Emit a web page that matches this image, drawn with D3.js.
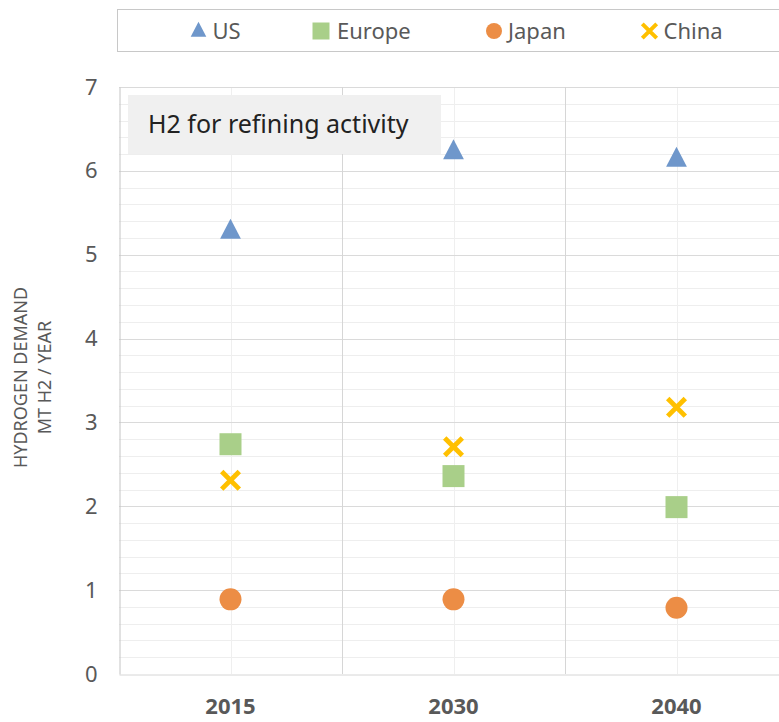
<!DOCTYPE html>
<html>
<head>
<meta charset="utf-8">
<script src="https://cdn.jsdelivr.net/npm/d3@7"></script>
<style>
  html, body { margin: 0; padding: 0; background: #fff; overflow: hidden; }
  svg { display: block; font-family: "Noto Sans", "Open Sans", sans-serif; }
</style>
</head>
<body>
<svg id="chart" width="779" height="722"></svg>
<script>
// data
const YEARS = ["2015", "2030", "2040"]
const US = [5.28, 6.23, 6.14]
const EUROPE = [2.74, 2.36, 1.99]
const JAPAN = [0.89, 0.89, 0.79]
const CHINA = [2.31, 2.71, 3.18]
const Y_TICKS = [0, 1, 2, 3, 4, 5, 6, 7]

const SERIES = [
    {name: "US", values: US, color: "#6f97cb", shape: "triangle"},
    {name: "Europe", values: EUROPE, color: "#a9cf89", shape: "square"},
    {name: "Japan", values: JAPAN, color: "#ec8d45", shape: "circle"},
    {name: "China", values: CHINA, color: "#ffc000", shape: "cross"}
]

const svg = d3.select("#chart")
const LEFT = 119, TOP = 87, BOTTOM = 674
const BAND = 223

const X_SCALE = d3.scaleBand()
    .domain(YEARS)
    .range([LEFT, LEFT + BAND * YEARS.length])
    .padding(0)
const Y_SCALE = d3.scaleLinear()
    .domain([0, 7])
    .range([BOTTOM, TOP])

// minor gridlines every 0.2
const minorTicks = d3.range(0, 7.001, 0.2).filter(v => Math.abs(v - Math.round(v)) > 0.01)
svg.append("g").selectAll("line").data(minorTicks).join("line")
    .attr("x1", LEFT).attr("x2", 779)
    .attr("y1", d => Math.round(Y_SCALE(d)) + 0.5).attr("y2", d => Math.round(Y_SCALE(d)) + 0.5)
    .attr("stroke", "#eeeeee")

// vertical lines through category centres
svg.append("g").selectAll("line").data(YEARS).join("line")
    .attr("x1", d => Math.round(X_SCALE(d) + BAND / 2) + 0.5)
    .attr("x2", d => Math.round(X_SCALE(d) + BAND / 2) + 0.5)
    .attr("y1", TOP).attr("y2", BOTTOM)
    .attr("stroke", "#efefef")

// major gridlines
svg.append("g").selectAll("line").data(Y_TICKS.slice(1)).join("line")
    .attr("x1", LEFT).attr("x2", 779)
    .attr("y1", d => Math.round(Y_SCALE(d)) + 0.5).attr("y2", d => Math.round(Y_SCALE(d)) + 0.5)
    .attr("stroke", "#dadada")

// category separators
svg.append("g").selectAll("line").data(YEARS.slice(1)).join("line")
    .attr("x1", d => Math.round(X_SCALE(d)) + 0.5).attr("x2", d => Math.round(X_SCALE(d)) + 0.5)
    .attr("y1", TOP).attr("y2", BOTTOM)
    .attr("stroke", "#d6d6d6")

// axes
const yAxis = svg.append("g")
    .attr("transform", `translate(${LEFT + 0.5},0)`)
    .call(d3.axisLeft(Y_SCALE).tickValues(Y_TICKS).tickSize(0).tickPadding(22).tickFormat(d3.format("d")))
yAxis.select(".domain").attr("stroke", "#c4c4c4")
yAxis.selectAll("text").attr("fill", "#595959").attr("font-size", 22)
    .attr("font-family", "Noto Sans, sans-serif")

const xAxis = svg.append("g")
    .attr("transform", `translate(0,${BOTTOM + 0.5})`)
    .call(d3.axisBottom(X_SCALE).tickSize(0).tickPadding(24))
xAxis.select(".domain").attr("stroke", "#d6d6d6")
xAxis.selectAll("text").attr("fill", "#595959").attr("font-size", 22)
    .attr("font-weight", "bold").attr("font-family", "Noto Sans, sans-serif")

// y axis title
svg.append("text")
    .attr("transform", `translate(27,${(TOP + BOTTOM) / 2 - 3}) rotate(-90)`)
    .attr("text-anchor", "middle")
    .attr("fill", "#595959").attr("font-size", 18)
    .text("HYDROGEN DEMAND")
svg.append("text")
    .attr("transform", `translate(51,${(TOP + BOTTOM) / 2 - 3}) rotate(-90)`)
    .attr("text-anchor", "middle")
    .attr("fill", "#595959").attr("font-size", 18)
    .text("MT H2 / YEAR")

// title box
svg.append("rect")
    .attr("x", 128).attr("y", 95).attr("width", 313).attr("height", 59)
    .attr("fill", "#f0f0f0")
svg.append("text")
    .attr("x", 148).attr("y", 133)
    .attr("fill", "#222").attr("font-size", 25)
    .text("H2 for refining activity")

function drawMarker(g, shape, color, size) {
    if (shape === "triangle") {
        g.append("path").attr("d", `M0,${-size * 0.62}L${size * 0.52},${size * 0.38}L${-size * 0.52},${size * 0.38}Z`).attr("fill", color)
    } else if (shape === "square") {
        g.append("rect").attr("x", -size / 2).attr("y", -size / 2).attr("width", size).attr("height", size).attr("fill", color)
    } else if (shape === "circle") {
        g.append("circle").attr("r", size / 2).attr("fill", color)
    } else {
        const h = size * 0.4
        g.append("path").attr("d", `M${-h},${-h}L${h},${h}M${h},${-h}L${-h},${h}`)
            .attr("stroke", color).attr("stroke-width", size * 0.22).attr("fill", "none")
    }
}

// markers
const MARKER_SIZE = {triangle: 20, square: 22, circle: 22, cross: 22}
for (const s of SERIES) {
    s.values.forEach((v, i) => {
        const g = svg.append("g")
            .attr("transform", `translate(${X_SCALE(YEARS[i]) + BAND / 2},${Y_SCALE(v)})`)
        drawMarker(g, s.shape, s.color, MARKER_SIZE[s.shape])
    })
}

// legend
svg.append("rect")
    .attr("x", 117.5).attr("y", 9.5).attr("width", 680).attr("height", 42)
    .attr("fill", "#fff").attr("stroke", "#c8c8c8")
const LEGEND_X = [198.5, 321, 494, 649.5]
const LEGEND_SIZE = {triangle: 15, square: 17, circle: 16, cross: 18}
SERIES.forEach((s, i) => {
    const g = svg.append("g").attr("transform", `translate(${LEGEND_X[i]},31)`)
    drawMarker(g, s.shape, s.color, LEGEND_SIZE[s.shape])
    g.append("text")
        .attr("x", s.shape === "square" ? 16 : 14).attr("y", 8)
        .attr("fill", "#595959").attr("font-size", 22)
        .text(s.name)
})
</script>
</body>
</html>
